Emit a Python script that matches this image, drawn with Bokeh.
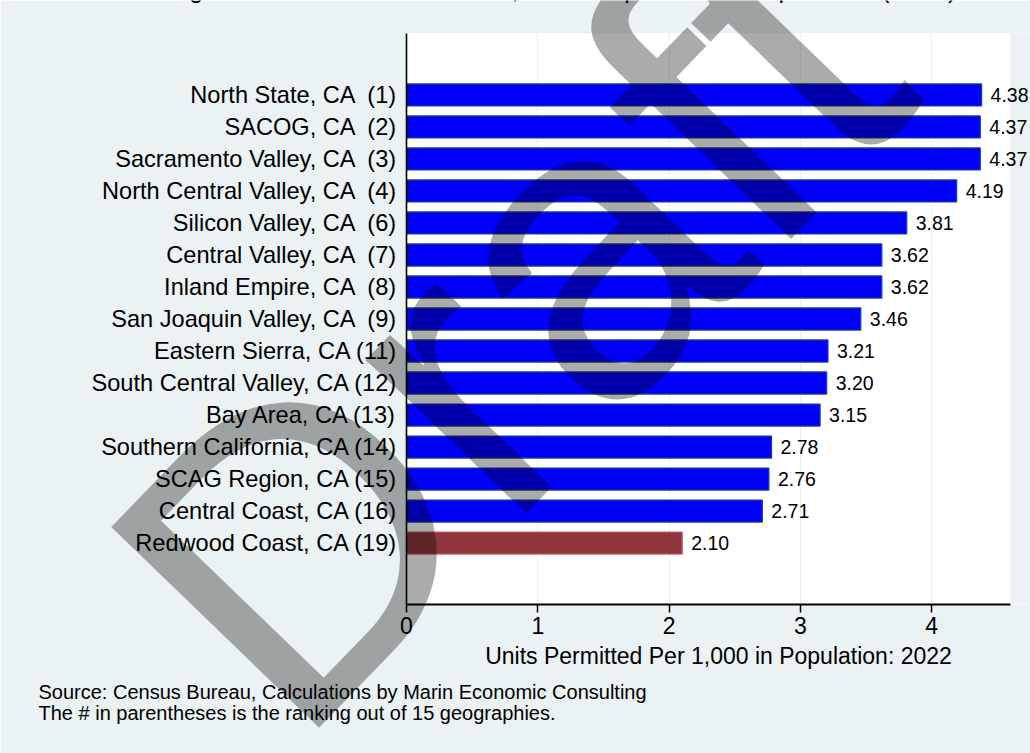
import math

from bokeh.core.properties import value
from bokeh.embed import file_html
from bokeh.models import (BoxAnnotation, ColumnDataSource, FactorRange, FixedTicker,
                          Label, LabelSet, Range1d)
from bokeh.plotting import figure
from bokeh.resources import INLINE

# Housing units permitted per 1,000 residents, 2022, in rank order (top first)
areas = [
    "North State", "SACOG", "Sacramento Valley", "North Central Valley",
    "Silicon Valley", "Central Valley", "Inland Empire", "San Joaquin Valley",
    "Eastern Sierra", "South Central Valley", "Bay Area", "Southern California",
    "SCAG Region", "Central Coast", "Redwood Coast",
]
ranks = [1, 2, 3, 4, 6, 7, 8, 9, 11, 12, 13, 14, 15, 16, 19]
units_per_1000 = [4.38, 4.37, 4.37, 4.19, 3.81, 3.62, 3.62, 3.46,
                  3.21, 3.20, 3.15, 2.78, 2.76, 2.71, 2.10]
highlight_area = "Redwood Coast"
x_ticks = [0, 1, 2, 3, 4]
x_axis_max = 4.6

caption = "Figure 3: Units Permitted Per 1,000 in Population: Comparables (Rank)"
x_title = "Units Permitted Per 1,000 in Population: 2022"
notes = [
    "Source: Census Bureau, Calculations by Marin Economic Consulting",
    "The # in parentheses is the ranking out of 15 geographies.",
]

FONT = "Liberation Sans"
BG = "#EAF2F3"
W, H = 1030, 753
LEFT, TOP, BOTTOM = 406, 33, 149      # borders around the plot area
AXIS_END_PX = 1010                    # where the white plot area stops


def area_label(name, rank):
    # single-digit ranks get an extra (non-collapsing) space so the
    # parentheses line up the way the source table prints them
    pad = "\u00a0" if rank < 10 else ""
    return f"{name}, CA {pad}({rank})"


labels = [area_label(a, r) for a, r in zip(areas, ranks)]
fills = ["#90353B" if a == highlight_area else "#0000FF" for a in areas]
edges = ["#B8676D" if a == highlight_area else "#23466E" for a in areas]

source = ColumnDataSource(dict(
    label=labels,
    value=units_per_1000,
    text=[f"{v:.2f}" for v in units_per_1000],
    fill=fills,
    edge=edges,
))

# the frame runs to the right edge so the value labels of the longest bars
# can spill past the end of the axis; the strip beyond is painted over below
x_end = x_axis_max * (W - LEFT) / (AXIS_END_PX - LEFT)

p = figure(
    width=W, height=H,
    y_range=FactorRange(factors=labels[::-1], range_padding=1.42,
                        range_padding_units="absolute"),
    x_range=Range1d(0, x_end),
    output_backend="svg", toolbar_location=None,
    min_border_left=LEFT, min_border_right=0,
    min_border_top=TOP, min_border_bottom=BOTTOM,
)
p.background_fill_color = "white"
p.border_fill_color = BG
p.outline_line_color = None

p.add_layout(BoxAnnotation(left=x_axis_max, fill_color=BG, fill_alpha=1,
                           line_color=None, level="underlay"))

p.hbar(y="label", left=0, right="value", height=0.69,
       fill_color="fill", line_color="edge", line_width=1.2, source=source)

p.add_layout(LabelSet(
    x="value", y="label", text="text", source=source,
    x_offset=9, text_baseline="middle", text_align="left",
    text_font=value(FONT), text_font_size="19.5px", text_color="black",
))

# grid: faint vertical lines only
p.ygrid.grid_line_color = None
p.xgrid.grid_line_color = BG
p.xgrid.grid_line_width = 1.2

# x axis
p.xaxis.ticker = FixedTicker(ticks=x_ticks)
p.xaxis.bounds = (0, x_axis_max)
p.xaxis.axis_line_color = "black"
p.xaxis.axis_line_width = 2.2
p.xaxis.major_tick_line_color = "black"
p.xaxis.major_tick_line_width = 1.5
p.xaxis.major_tick_out = 8
p.xaxis.major_tick_in = 0
p.xaxis.minor_tick_line_color = None
p.xaxis.major_label_text_font = FONT
p.xaxis.major_label_text_font_size = "23px"
p.xaxis.major_label_text_color = "black"
p.xaxis.major_label_standoff = 4
p.xaxis.axis_label = x_title
p.xaxis.axis_label_text_font = FONT
p.xaxis.axis_label_text_font_size = "23px"
p.xaxis.axis_label_text_font_style = "normal"
p.xaxis.axis_label_text_color = "black"
p.xaxis.axis_label_standoff = 6

# y axis
p.yaxis.axis_line_color = "black"
p.yaxis.axis_line_width = 1.6
p.yaxis.major_tick_out = 0
p.yaxis.major_tick_in = 0
p.yaxis.minor_tick_line_color = None
p.yaxis.major_label_standoff = 9
p.yaxis.major_label_text_font = FONT
p.yaxis.major_label_text_font_size = "23.6px"
p.yaxis.major_label_text_color = "black"

# transparent sheet laid over the chart (page pixels as data units, y down)
# for the caption, the source notes and the draft stamp, none of which sit
# inside the plot frame
over = figure(
    width=W, height=H,
    x_range=Range1d(0, W), y_range=Range1d(H, 0),
    x_axis_location=None, y_axis_location=None,
    min_border=0, output_backend="svg", toolbar_location=None,
    styles={"position": "absolute", "top": "0px", "left": "0px"},
)
over.grid.grid_line_color = None
over.background_fill_color = None
over.border_fill_color = None
over.outline_line_color = None

# caption of the document page, running off the top edge
over.add_layout(Label(
    x=168, y=-12, text=caption, text_font=FONT, text_font_size="25px",
    text_color="black", text_baseline="alphabetic",
))

for i, line in enumerate(notes):
    over.add_layout(Label(
        x=38, y=691 + 21 * i, text=line, text_font=FONT,
        text_font_size="20px", text_color="black", text_baseline="middle",
    ))

# draft stamp rising from the lower left
over.add_layout(Label(
    x=190, y=651, text="Draft", angle=math.radians(46),
    text_font=FONT, text_font_size="420px", text_color="black",
    text_alpha=0.33, text_baseline="alphabetic",
))

open("out.html", "w").write(file_html([p, over], INLINE))
